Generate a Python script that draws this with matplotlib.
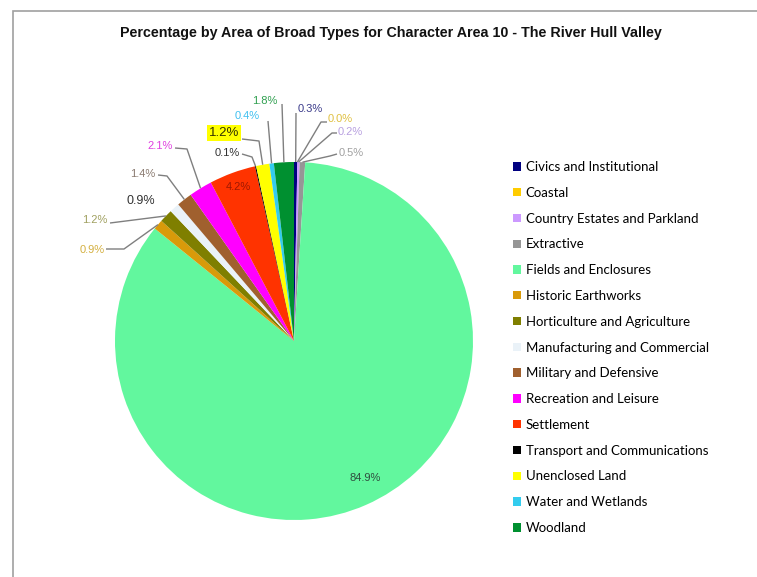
import numpy as np
import matplotlib
matplotlib.use("Agg")
import matplotlib.pyplot as plt
from matplotlib.patches import Rectangle

# Broad type breakdown, percentage of total area
categories = [
    "Civics and Institutional", "Coastal", "Country Estates and Parkland",
    "Extractive", "Fields and Enclosures", "Historic Earthworks",
    "Horticulture and Agriculture", "Manufacturing and Commercial",
    "Military and Defensive", "Recreation and Leisure", "Settlement",
    "Transport and Communications", "Unenclosed Land", "Water and Wetlands",
    "Woodland",
]
percent = [0.3, 0.0, 0.2, 0.5, 84.9, 0.9, 1.2, 0.9, 1.4, 2.1, 4.2, 0.1, 1.2, 0.4, 1.8]

colors = ["#000080", "#FFCC00", "#CC99FF", "#969696", "#62F79E", "#D99A0A",
          "#7F7F00", "#EAF2F8", "#A0602E", "#FF00FF", "#FF3300", "#000000",
          "#FFFF00", "#33CCEE", "#009030"]
label_colors = ["#3A3A8A", "#E0C040", "#B8A0E0", "#A0A0A0", "#2F4F3F",
                "#D4B040", "#A0A060", "#333333", "#8A7A70", "#E040E0",
                "#A01800", "#333333", "#333300", "#40C0F0", "#30A050"]

W, H, DPI = 757, 577, 100
CX, CY, R = 294, 341, 179      # pie centre / radius in pixels


def px(x, y):
    """pixel position -> pie units (radius 1, origin at pie centre)"""
    return (x - CX) / R, (CY - y) / R


# label centre, then leader polyline starting at the text (None = no leader)
label_pos = [
    ((310, 109), [(296, 113)]),
    ((340, 119), [(327, 122), (321, 122)]),
    ((350, 132), [(337, 133), (332, 133)]),
    ((351, 153), [(337, 154), (330, 156)]),
    ((365, 478), None),
    ((92, 250), [(106, 249), (124, 249)]),
    ((95, 220), [(110, 223)]),
    ((141, 201), None),
    ((143, 174), [(158, 175), (167, 176)]),
    ((160, 146), [(175, 148), (187, 149)]),
    ((238, 187), None),
    ((227, 153), [(242, 154), (252, 157)]),
    ((224, 133), [(242, 139), (259, 141)]),
    ((247, 116), [(268, 121)]),
    ((265, 101), [(282, 104)]),
]

fig = plt.figure(figsize=(W / DPI, H / DPI), dpi=DPI)
ax = fig.add_axes([0, 0, 1, 1])
ax.set_aspect("equal")
ax.axis("off")

# chart area frame (runs off the right / bottom edge)
fig.patches.append(Rectangle((13 / W, -0.1), 1.2, 1.1 - 11 / H,
                             transform=fig.transFigure, fill=False,
                             edgecolor="#A0A0A0", linewidth=1.2))

wedges, _ = ax.pie(percent, colors=colors, startangle=90, counterclock=False,
                   radius=1, center=(0, 0), wedgeprops=dict(linewidth=0),
                   normalize=True)
ax.set_xlim(-CX / R, (W - CX) / R)
ax.set_ylim((CY - H) / R, CY / R)

for i, (w, (tpos, leader)) in enumerate(zip(wedges, label_pos)):
    tx, ty = px(*tpos)
    kw = dict(ha="center", va="center", fontsize=8, color=label_colors[i],
              family="Liberation Sans")
    if categories[i] == "Unenclosed Land":
        kw.update(fontsize=9.5, bbox=dict(boxstyle="square,pad=0.15",
                                          fc="#FFFF00", ec="none"))
    if categories[i] == "Manufacturing and Commercial":
        kw.update(fontsize=9)
    ax.text(tx, ty, f"{percent[i]:.1f}%", **kw)
    if leader:
        mid = np.deg2rad((w.theta1 + w.theta2) / 2)
        pts = [px(*p) for p in leader] + [(np.cos(mid), np.sin(mid))]
        xs, ys = zip(*pts)
        ax.plot(xs, ys, color="#7F7F7F", linewidth=1, solid_capstyle="butt")

fig.text(391 / W, 1 - 33 / H,
         "Percentage by Area of Broad Types for Character Area 10 - The River Hull Valley",
         ha="center", va="center", fontsize=10.3, fontweight="bold",
         family="Liberation Sans", color="#111111")

fig.legend(wedges, categories, loc="upper left",
           bbox_to_anchor=(513 / W, 1 - 161 / H), frameon=False,
           prop=dict(family="Lato", size=9.5), handlelength=0.6,
           handleheight=0.6, handletextpad=0.35, labelspacing=1.045,
           borderpad=0, borderaxespad=0)

fig.savefig("out.png", dpi=DPI)
